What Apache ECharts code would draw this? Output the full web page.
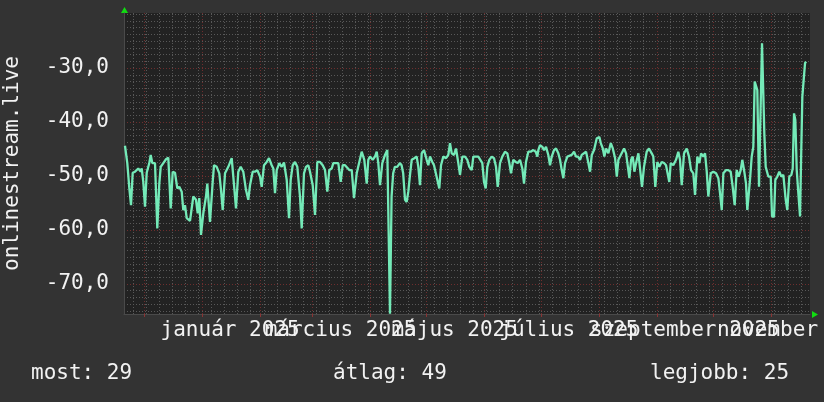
<!DOCTYPE html>
<html><head><meta charset="utf-8">
<script src="https://cdn.jsdelivr.net/npm/echarts@6/dist/echarts.min.js"></script>
<style>html,body{margin:0;padding:0;background:#333333;}#c{width:824px;height:402px;}</style>
</head><body><div id="c"></div>
<script>
// time range of the graph (UTC)
const startTime = Date.UTC(2024, 10, 20, 7, 32);
const spanDays = 366.53;
// samples: offset in days from startTime, value
const dayOffsets = [0.53,1.76,2.83,3.74,4.65,5.88,7.64,8.92,9.46,10.31,11.22,12.13,13.52,14.27,15.12,16.56,17.79,18.86,19.61,21.0,22.44,23.67,24.95,26.02,27.25,28.48,29.55,30.83,31.68,32.59,33.5,35.26,36.17,37.03,38.47,39.38,40.23,41.14,42.37,43.81,44.51,45.95,47.39,48.09,49.53,50.92,51.83,52.74,53.97,55.73,57.55,58.4,59.84,61.07,62.35,63.74,65.18,66.41,67.32,68.76,69.99,71.22,72.66,73.57,74.8,76.24,77.47,78.92,79.77,80.68,81.59,82.98,84.26,85.49,86.93,88.16,89.07,90.14,91.37,92.6,94.04,94.95,96.17,97.24,98.47,99.38,100.83,102.05,103.28,104.72,106.17,107.4,108.63,109.69,110.98,111.83,113.27,114.5,115.78,116.85,118.08,118.99,120.38,121.67,122.89,124.34,125.73,127.0,128.39,129.68,130.53,
131.44,132.88,134.11,135.02,135.87,136.78,138.01,139.45,140.68,141.43,142.12,142.97,143.82,144.73,145.96,147.47,148.31,149.17,150.14,151.05,151.9,152.81,153.72,155.11,156.39,157.25,158.15,159.06,160.29,161.73,162.59,163.5,164.73,165.64,166.55,167.4,168.47,169.38,170.61,172.05,173.28,174.19,175.1,176.32,177.39,178.62,179.53,180.76,182.2,183.43,184.5,185.78,186.64,188.08,189.31,190.22,191.45,192.35,193.26,194.12,195.19,196.47,197.7,198.76,199.67,200.9,202.13,203.57,204.8,205.87,206.78,208.01,209.29,210.36,211.59,212.82,213.73,214.79,216.02,217.31,218.7,219.98,220.84,221.37,222.28,223.51,224.42,225.49,226.71,227.62,228.53,229.76,230.83,232.06,232.97,233.88,234.74,235.65,236.88,237.94,239.23,240.46,241.53,242.6,243.67,244.58,245.43,246.88,248.11,249.02,249.93,251.16,252.6,253.99,254.74,255.81,256.66,257.57,258.8,260.09,261.16,262.39,263.3,264.15,
265.06,267.2,268.27,268.96,270.03,270.94,271.85,272.7,273.61,274.84,275.7,276.77,277.84,279.28,280.51,281.95,282.81,283.88,284.95,286.02,287.3,288.53,289.6,290.29,291.36,292.11,293.5,294.94,296.17,297.08,297.99,299.22,300.66,301.89,302.96,304.19,305.1,306.33,307.4,308.31,309.54,310.45,311.36,312.21,313.5,314.89,316.33,317.56,318.47,319.38,320.24,321.68,322.91,324.15,325.22,326.29,327.36,328.43,329.5,330.36,331.43,332.34,333.03,334.47,335.38,336.24,336.99,337.68,338.38,339.29,339.82,340.89,341.59,342.12,342.87,344.26,345.54,346.24,347.31,348.0,349.07,350.14,351.21,352.28,353.56,354.41,355.48,356.55,357.3,358.0,358.69,359.44,360.3,361.21,361.9,362.44,362.97,363.88,364.41];
const values = [-44.4,-47.6,-52.2,-55.4,-49.4,-49.2,-48.6,-49.2,-48.6,-51.1,-55.7,-49.4,-47.6,-46.1,-47.6,-47.6,-59.7,-51.4,-48.3,-47.6,-46.9,-46.6,-56.0,-49.2,-49.4,-52.3,-52.0,-52.9,-56.3,-55.4,-57.8,-58.3,-58.1,-53.8,-54.4,-56.9,-54.1,-60.9,-56.9,-53.8,-51.4,-58.5,-51.1,-48.0,-48.3,-49.5,-52.6,-56.3,-49.5,-48.3,-46.7,-50.1,-56.0,-49.2,-48.3,-49.2,-52.6,-54.4,-51.7,-49.2,-49.2,-48.9,-50.1,-52.0,-48.0,-47.4,-46.7,-48.0,-48.6,-53.2,-48.9,-47.6,-48.3,-47.5,-50.7,-57.8,-50.7,-48.0,-47.4,-48.3,-53.8,-59.7,-49.5,-48.3,-48.0,-49.2,-51.7,-57.2,-47.4,-47.4,-48.0,-48.9,-52.9,-48.9,-48.6,-47.6,-47.6,-47.6,-51.1,-48.0,-48.0,-48.3,-48.9,-48.9,-54.1,-49.5,-47.4,-45.5,-47.0,-51.4,-47.0,
-46.4,-47.0,-46.4,-45.5,-47.6,-51.7,-47.6,-46.1,-45.2,-45.5,-75.5,-53.8,-49.5,-48.3,-48.3,-47.6,-48.0,-49.5,-54.4,-54.8,-52.9,-49.8,-47.0,-46.7,-46.4,-48.3,-51.7,-45.8,-45.2,-47.0,-48.0,-46.4,-47.4,-48.0,-48.3,-50.7,-52.3,-48.0,-46.4,-46.7,-46.1,-43.9,-45.8,-46.1,-44.9,-47.6,-49.8,-46.4,-46.4,-47.0,-48.3,-48.9,-46.4,-46.4,-46.4,-46.1,-47.6,-51.1,-52.3,-48.3,-47.0,-46.4,-46.7,-48.3,-52.0,-47.6,-46.4,-45.5,-45.8,-47.6,-49.5,-47.0,-47.4,-47.6,-47.0,-48.6,-51.4,-47.4,-45.5,-45.5,-45.2,-45.5,-46.4,-45.2,-44.3,-44.6,-45.2,-44.6,-46.1,-48.0,-46.4,-45.2,-44.9,-45.8,-47.0,-48.9,-50.4,-47.6,-46.4,-46.7,-46.1,-45.5,-46.4,-46.4,-47.0,-46.1,-45.8,-45.5,-47.6,-49.2,-46.1,-45.2,-43.0,-42.8,-43.9,-44.9,-46.4,-44.9,-45.8,-43.9,-44.9,-46.7,-50.1,-47.0,
-47.0,-44.9,-45.8,-47.6,-50.4,-47.0,-46.4,-49.2,-47.6,-45.8,-45.8,-52.0,-48.3,-45.5,-44.9,-45.8,-46.4,-52.0,-47.4,-48.3,-47.4,-47.6,-48.0,-48.3,-51.1,-47.6,-48.0,-47.0,-45.5,-47.0,-51.7,-45.8,-44.9,-46.4,-48.9,-49.5,-53.5,-46.4,-47.6,-45.8,-46.4,-45.8,-49.2,-53.8,-49.5,-49.2,-49.5,-50.4,-53.2,-56.3,-49.5,-48.9,-48.9,-49.2,-52.0,-55.4,-48.9,-50.1,-48.9,-47.0,-49.2,-51.4,-56.3,-50.7,-46.4,-44.6,-32.5,-32.2,-34.1,-52.0,-42.7,-25.4,-25.7,-42.1,-48.3,-50.1,-50.1,-57.5,-57.5,-50.7,-50.1,-49.2,-50.1,-49.8,-54.4,-56.3,-50.1,-49.8,-48.6,-38.4,-39.6,-48.9,-53.2,-57.5,-44.6,-35.3,-35.0,-29.1,-28.8];
const monthStarts = ['2024-12-01','2025-01-01','2025-02-01','2025-03-01','2025-04-01','2025-05-01','2025-06-01','2025-07-01','2025-08-01','2025-09-01','2025-10-01','2025-11-01'];
const labelDates = ['2025-01-16','2025-03-16','2025-05-16','2025-07-16','2025-09-16','2025-11-16'];
const labelTexts = ['január 2025','március 2025','május 2025','július 2025','szeptember 2025','november 2025'];
const yMajor = [-70, -60, -50, -40, -30];
const yMin = -75.556, yMax = -19.81;
const yMinorStep = 1.25;
const firstMonday = '2024-11-25';
const axisTitle = 'onlinestream.live';
const legendTexts = ['most: 29', 'átlag: 49', 'legjobb: 25'];

const DAY = 86400000;
const toT = s => new Date(s + 'T00:00:00Z').getTime();
const endTime = startTime + spanDays * DAY;
const seriesData = dayOffsets.map((d, i) => [startTime + d * DAY, values[i]]);
const monthVals = monthStarts.map(toT);
const labelVals = labelDates.map(toT);
const labelsA = labelVals.filter((v, i) => i % 2 === 0);
const labelsB = labelVals.filter((v, i) => i % 2 === 1);
const weekVals = [];
for (let t = toT(firstMonday); t < endTime; t += 7 * DAY) weekVals.push(t);
const yMinor = [];
for (let v = -75; v <= yMax; v += yMinorStep) yMinor.push(+v.toFixed(2));

const FONT = "'DejaVu Sans Mono', monospace";
const TXT = '#f2f2f2';
const labelFmt = v => { const i = labelVals.findIndex(t => Math.abs(t - v) < 3600000); return i >= 0 ? labelTexts[i] : ''; };
const labelStyle = (vals) => ({show: true, customValues: vals, margin: 6, color: TXT, fontFamily: FONT, fontSize: 21,
  hideOverlap: false, showMinLabel: true, showMaxLabel: true, formatter: labelFmt});
const RED = '#6e2e2e';
const GRAY = '#585858';
const chart = echarts.init(document.getElementById('c'), null, {renderer: 'canvas'});
chart.setOption({
  backgroundColor: '#333333',
  animation: false,
  grid: {left: 124, right: 14, top: 13, bottom: 88, show: true, backgroundColor: '#222222', borderWidth: 0, outerBoundsMode: 'none'},
  xAxis: [{
    type: 'value', min: startTime, max: endTime, z: 3,
    axisLine: {show: true, onZero: false, lineStyle: {color: '#4a4a4a', width: 1}},
    axisTick: {show: true, customValues: monthVals, length: 3, lineStyle: {color: '#8a3434'}},
    splitLine: {show: true, lineStyle: {color: RED, width: 1, type: [1, 2]}},
    axisLabel: labelStyle(labelsA)
  }, {
    type: 'value', min: startTime, max: endTime, z: 1, position: 'bottom',
    axisLine: {show: false}, axisLabel: {show: false},
    axisTick: {show: false, customValues: weekVals},
    splitLine: {show: true, lineStyle: {color: GRAY, width: 1, type: [1, 2]}}
  }, {
    type: 'value', min: startTime, max: endTime, z: 4, position: 'bottom',
    axisLine: {show: false}, axisTick: {show: false}, splitLine: {show: false},
    axisLabel: labelStyle(labelsB)
  }],
  yAxis: [{
    type: 'value', min: yMin, max: yMax, z: 3,
    name: axisTitle, nameLocation: 'middle', nameRotate: 90, nameGap: 101,
    nameTextStyle: {color: TXT, fontFamily: FONT, fontSize: 21},
    axisLine: {show: true, onZero: false, lineStyle: {color: '#4a4a4a', width: 1}},
    axisTick: {show: false, customValues: yMajor},
    splitLine: {show: true, lineStyle: {color: RED, width: 1, type: [1, 2]}},
    axisLabel: {customValues: yMajor, margin: 15, color: TXT, fontFamily: FONT, fontSize: 21,
      formatter: v => v.toFixed(1).replace('.', ',')}
  }, {
    type: 'value', min: yMin, max: yMax, z: 1, position: 'left',
    axisLine: {show: false}, axisLabel: {show: false},
    axisTick: {show: false, customValues: yMinor},
    splitLine: {show: true, lineStyle: {color: GRAY, width: 1, type: [1, 2]}}
  }],
  series: [{
    type: 'line', xAxisIndex: 0, yAxisIndex: 0, data: seriesData, showSymbol: false,
    lineStyle: {color: '#74eab8', width: 2.3}, z: 5, clip: true
  }],
  graphic: [
    {type: 'polygon', shape: {points: [[121, 13], [128, 13], [124.5, 7]]}, style: {fill: '#11dd11'}},
    {type: 'polygon', shape: {points: [[812, 311], [812, 318], [818, 314.5]]}, style: {fill: '#11dd11'}},
    {type: 'text', left: 31, top: 363, style: {text: legendTexts[0], fill: TXT, font: "21px 'DejaVu Sans Mono', monospace"}},
    {type: 'text', left: 333, top: 363, style: {text: legendTexts[1], fill: TXT, font: "21px 'DejaVu Sans Mono', monospace"}},
    {type: 'text', left: 650, top: 363, style: {text: legendTexts[2], fill: TXT, font: "21px 'DejaVu Sans Mono', monospace"}}
  ]
});
</script>
</body></html>
